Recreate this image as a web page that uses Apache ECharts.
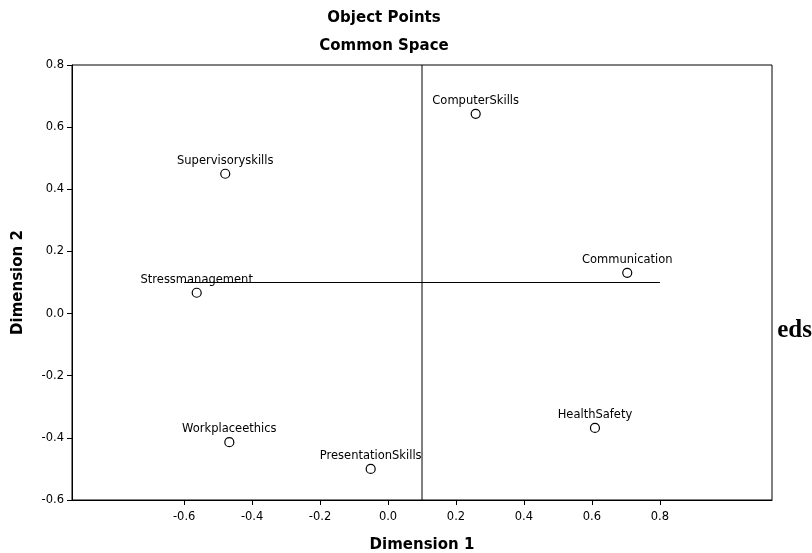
<!DOCTYPE html>
<html>
<head>
<meta charset="utf-8">
<script src="https://cdn.jsdelivr.net/npm/echarts@6/dist/echarts.min.js"></script>
<style>html,body{margin:0;padding:0;background:#fff}#c{width:812px;height:553px}</style>
</head>
<body>
<div id="c"></div>
<script>
var names = ["ComputerSkills","Supervisoryskills","Stressmanagement","Communication","HealthSafety","Workplaceethics","PresentationSkills"];
var dim1 = [0.258,-0.479,-0.563,0.704,0.609,-0.467,-0.051];
var dim2 = [0.643,0.450,0.067,0.131,-0.368,-0.414,-0.500];
var xTicks = [-0.6,-0.4,-0.2,0.0,0.2,0.4,0.6,0.8];
var refX = 0.1, refY = 0.1;
var vLine = [[refX,-0.6],[refX,0.8]];
var hLine = [[-0.6,refY],[0.8,refY]];

var F = "'DejaVu Sans', Arial, sans-serif";
var chart = echarts.init(document.getElementById('c'));
var pts = names.map(function(n,i){return {name:n, value:[dim1[i],dim2[i]]};});
chart.setOption({
  animation:false,
  grid:{left:72,right:40,top:65,bottom:53,outerBoundsMode:'none',containLabel:false,show:true,borderColor:'#000',borderWidth:1,backgroundColor:'#fff'},
  xAxis:{type:'value',min:-0.93,max:1.13,
    name:'Dimension 1',nameLocation:'middle',nameGap:38,
    nameTextStyle:{fontFamily:F,fontSize:15,fontWeight:'bold',color:'#000'},
    axisLine:{show:true,onZero:false,lineStyle:{color:'#000'}},
    axisTick:{show:true,length:5,customValues:xTicks,lineStyle:{color:'#000'}},
    axisLabel:{customValues:xTicks,fontFamily:F,fontSize:11.5,color:'#000',margin:11,formatter:function(v){return v.toFixed(1);}},
    splitLine:{show:false}},
  yAxis:{type:'value',min:-0.6,max:0.8,interval:0.2,
    name:'Dimension 2',nameLocation:'middle',nameGap:46,
    nameTextStyle:{fontFamily:F,fontSize:15,fontWeight:'bold',color:'#000'},
    axisLine:{show:true,onZero:false,lineStyle:{color:'#000'}},
    axisTick:{show:true,length:5,lineStyle:{color:'#000'}},
    axisLabel:{fontFamily:F,fontSize:11.5,color:'#000',margin:8,formatter:function(v){return v.toFixed(1);}},
    splitLine:{show:false}},
  graphic:[
    {type:'text',z:10,style:{text:'Object Points',x:384,y:18,align:'center',verticalAlign:'middle',font:"bold 15px 'DejaVu Sans', Arial, sans-serif",fill:'#000'}},
    {type:'text',z:10,style:{text:'Common Space',x:384,y:46,align:'center',verticalAlign:'middle',font:"bold 15px 'DejaVu Sans', Arial, sans-serif",fill:'#000'}},
    {type:'text',z:1,style:{text:'eds',x:812,y:318,align:'right',verticalAlign:'alphabetic',font:"bold 25px 'Liberation Serif', 'Times New Roman', serif",fill:'#000'}},
    {type:'rect',z:100,shape:{x:773.5,y:295,width:9,height:30},style:{fill:'#fff'}}
  ],
  series:[
    {type:'line',data:vLine,symbol:'none',lineStyle:{color:'#000',width:1},silent:true,z:1},
    {type:'line',data:hLine,symbol:'none',lineStyle:{color:'#000',width:1},silent:true,z:1},
    {type:'scatter',data:pts,symbol:'circle',symbolSize:9,z:3,
      itemStyle:{color:'#fff',borderColor:'#000',borderWidth:1.2,opacity:1},
      label:{show:true,position:'top',distance:2,formatter:'{b}',fontFamily:F,fontSize:11.5,color:'#000'}}
  ]
});
</script>
</body>
</html>
